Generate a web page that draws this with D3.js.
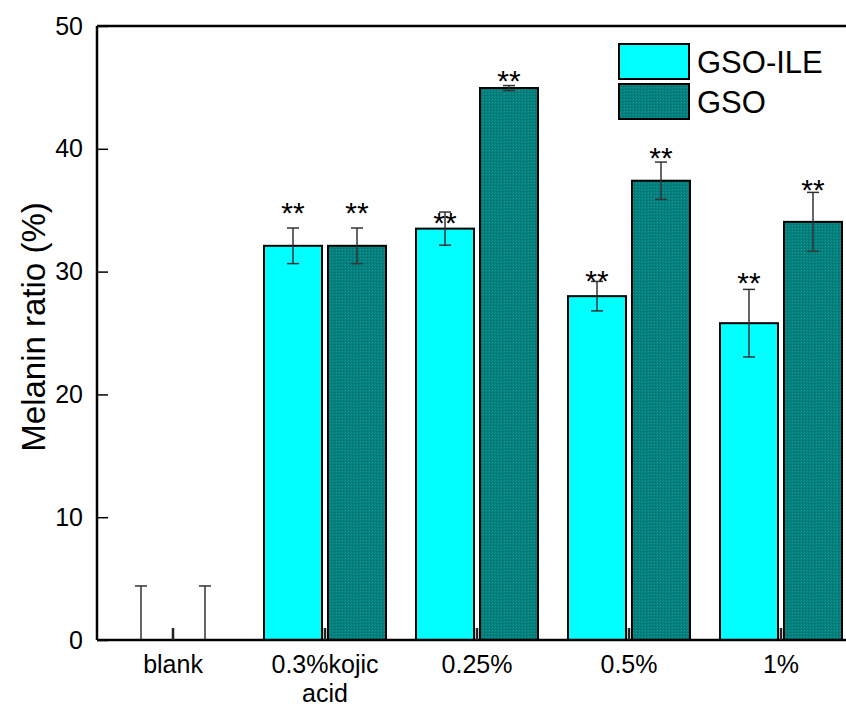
<!DOCTYPE html>
<html>
<head>
<meta charset="utf-8">
<script src="https://cdn.jsdelivr.net/npm/d3@7/dist/d3.min.js"></script>
<style>
  html, body { margin: 0; padding: 0; background: #fff; }
  svg { display: block; font-family: "Liberation Sans", Arial, sans-serif; }
</style>
</head>
<body>
<svg id="chart" width="846" height="706"></svg>
<script>
// ---- data ----
const categories = ["blank", "0.3%kojic\nacid", "0.25%", "0.5%", "1%"];
const seriesNames = ["GSO-ILE", "GSO"];
const gsoIleValues = [0, 32.1, 33.5, 28.0, 25.8];
const gsoIleErrors = [4.4, 1.45, 1.35, 1.2, 2.75];
const gsoValues = [0, 32.1, 44.95, 37.4, 34.05];
const gsoErrors = [4.4, 1.45, 0.2, 1.52, 2.4];
const gsoIleSig = ["", "**", "**", "**", "**"];
const gsoSig = ["", "**", "**", "**", "**"];
const gsoIleSigLevel = [null, 35.0, 34.2, 29.5, 29.3];
const gsoSigLevel = [null, 35.0, 45.8, 39.5, 36.9];
const yTicks = [0, 10, 20, 30, 40, 50];
const yTitle = "Melanin ratio (%)";

// ---- layout ----
const svg = d3.select("#chart");
const mLeft = 97, mTop = 26, mBottom = 640, mRight = 857;
const colors = ["#00FFFF", "#008080"];
const FONT = "'Liberation Sans', Arial, sans-serif";

const defs = svg.append("defs");
const pat = defs.append("pattern").attr("id", "stipple")
  .attr("width", 3).attr("height", 3).attr("patternUnits", "userSpaceOnUse");
pat.append("rect").attr("width", 3).attr("height", 3).attr("fill", "#007f7c");
pat.append("rect").attr("x", 0).attr("y", 0).attr("width", 1).attr("height", 1).attr("fill", "#1f9692");
pat.append("rect").attr("x", 2).attr("y", 1).attr("width", 1).attr("height", 1).attr("fill", "#0a8a86");
pat.append("rect").attr("x", 1).attr("y", 2).attr("width", 1).attr("height", 1).attr("fill", "#006e6c");

const x = d3.scaleBand().domain(categories).range([mLeft, mRight]).paddingInner(0).paddingOuter(0);
const y = d3.scaleLinear().domain([0, 50]).range([mBottom, mTop]);
const barW = 58, offset = 32;

const series = [
  { name: seriesNames[0], values: gsoIleValues, errors: gsoIleErrors, sig: gsoIleSig, sigLevel: gsoIleSigLevel, fill: colors[0], off: -offset },
  { name: seriesNames[1], values: gsoValues, errors: gsoErrors, sig: gsoSig, sigLevel: gsoSigLevel, fill: "url(#stipple)", off: offset }
];
const cx = (c) => x(c) + x.bandwidth() / 2;

// bars
series.forEach(s => {
  const g = svg.append("g");
  categories.forEach((c, i) => {
    if (s.values[i] <= 0) return;
    g.append("rect")
      .attr("x", cx(c) + s.off - barW / 2)
      .attr("y", y(s.values[i]))
      .attr("width", barW)
      .attr("height", y(0) - y(s.values[i]))
      .attr("fill", s.fill)
      .attr("stroke", "#000")
      .attr("stroke-width", 2);
  });
});

// error bars
series.forEach(s => {
  const g = svg.append("g").attr("stroke", "#333").attr("stroke-width", 1.5);
  categories.forEach((c, i) => {
    const xc = cx(c) + s.off;
    const hi = s.values[i] + s.errors[i];
    const lo = Math.max(0, s.values[i] - s.errors[i]);
    g.append("line").attr("x1", xc).attr("x2", xc).attr("y1", y(hi)).attr("y2", y(lo));
    g.append("line").attr("x1", xc - 6).attr("x2", xc + 6).attr("y1", y(hi)).attr("y2", y(hi));
    if (s.values[i] - s.errors[i] > 0)
      g.append("line").attr("x1", xc - 6).attr("x2", xc + 6).attr("y1", y(lo)).attr("y2", y(lo));
  });
});

// significance stars
series.forEach(s => {
  categories.forEach((c, i) => {
    if (!s.sig[i]) return;
    svg.append("text")
      .attr("x", cx(c) + s.off)
      .attr("y", y(s.sigLevel[i]) + 13)
      .attr("text-anchor", "middle")
      .attr("font-size", 30)
      .attr("font-family", FONT)
      .attr("fill", "#000")
      .text(s.sig[i]);
  });
});

// frame
svg.append("line").attr("x1", mLeft).attr("x2", mRight + 10).attr("y1", mTop).attr("y2", mTop)
  .attr("stroke", "#000").attr("stroke-width", 2.5);
svg.append("line").attr("x1", mRight).attr("x2", mRight).attr("y1", mTop).attr("y2", mBottom)
  .attr("stroke", "#000").attr("stroke-width", 2.5);

// y axis
const yAxis = d3.axisLeft(y).tickValues(yTicks).tickSize(-11).tickPadding(14).tickFormat(d3.format("d"));
const yg = svg.append("g").attr("transform", `translate(${mLeft},0)`).call(yAxis);
yg.select(".domain").attr("stroke-width", 2.5).attr("d", `M0,${mBottom}V${mTop}`);
yg.selectAll(".tick line").attr("stroke-width", 1.5);
yg.selectAll(".tick text").attr("font-size", 25).attr("fill", "#000").attr("font-family", FONT);

// x axis
const xAxis = d3.axisBottom(x).tickSize(-12).tickPadding(0).tickFormat("");
const xg = svg.append("g").attr("transform", `translate(0,${mBottom})`).call(xAxis);
xg.select(".domain").attr("stroke-width", 2.5).attr("d", `M${mLeft},0H${mRight}`);
xg.selectAll(".tick line").attr("stroke-width", 2.5).attr("stroke", "#222");
xg.selectAll(".tick").each(function(d) {
  const lines = d.split("\n");
  const t = d3.select(this).append("text")
    .attr("text-anchor", "middle")
    .attr("font-size", 25)
    .attr("fill", "#000")
    .attr("font-family", FONT)
    .attr("y", 33);
  lines.forEach((ln, k) => {
    t.append("tspan").attr("x", 0).attr("dy", k === 0 ? 0 : 29).text(ln);
  });
});

// y title
svg.append("text")
  .attr("transform", `translate(45,327) rotate(-90)`)
  .attr("text-anchor", "middle")
  .attr("font-size", 33)
  .attr("font-family", FONT)
  .attr("fill", "#000")
  .text(yTitle);

// legend
const lg = svg.append("g");
series.forEach((s, i) => {
  const yy = 44 + i * 40;
  lg.append("rect").attr("x", 619).attr("y", yy).attr("width", 70).attr("height", 35)
    .attr("fill", s.fill).attr("stroke", "#000").attr("stroke-width", 2);
  lg.append("text").attr("x", 697).attr("y", yy + 29).attr("font-size", 31)
    .attr("font-family", FONT).attr("fill", "#000").text(s.name);
});
</script>
</body>
</html>
